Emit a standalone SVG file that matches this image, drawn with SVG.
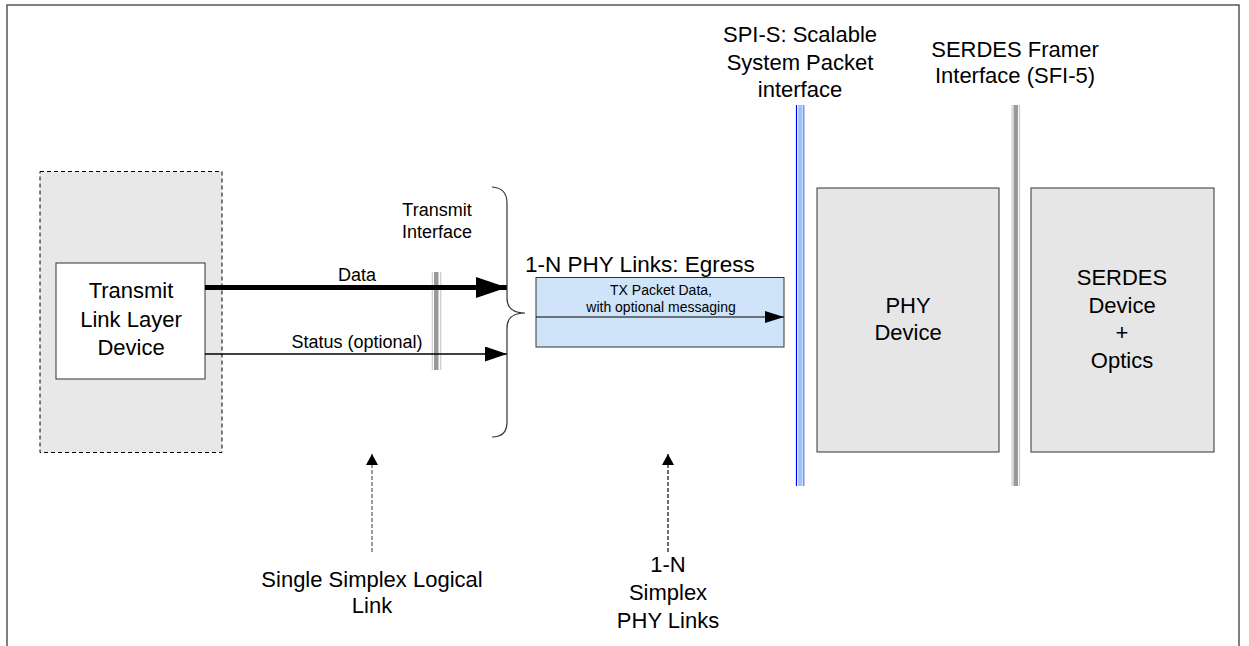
<svg xmlns="http://www.w3.org/2000/svg" width="1249" height="646" viewBox="0 0 1249 646">
<defs>
<style>
text{font-family:"Liberation Sans",Arial,sans-serif;fill:#000}
.big{font-size:22px;text-anchor:middle}
.med{font-size:18px;text-anchor:middle}
.sm{font-size:14px;text-anchor:middle}
.dev{fill:#e6e6e6;stroke:#333;stroke-width:1}
</style>
<marker id="ahD" markerWidth="31" markerHeight="21" refX="31" refY="10.5" orient="auto" markerUnits="userSpaceOnUse"><path d="M0,0 L31,10.5 L0,21 Z" fill="#000"/></marker>
<marker id="ahS" markerWidth="22" markerHeight="15" refX="22" refY="7.5" orient="auto" markerUnits="userSpaceOnUse"><path d="M0,0 L22,7.5 L0,15 Z" fill="#000"/></marker>
<marker id="ahB" markerWidth="19" markerHeight="12" refX="19" refY="6" orient="auto" markerUnits="userSpaceOnUse"><path d="M0,0 L19,6 L0,12 Z" fill="#000"/></marker>
<marker id="ahU" markerWidth="12" markerHeight="12" refX="11" refY="6" orient="auto" markerUnits="userSpaceOnUse"><path d="M0,0 L11,6 L0,12 Z" fill="#000"/></marker>
</defs>
<rect x="0" y="0" width="1249" height="646" fill="#fff"/>
<rect id="frame" x="7" y="5" width="1232" height="660" fill="none" stroke="#555" stroke-width="1.5"/>

<g id="linkLayerRegion">
<rect x="40" y="171.5" width="182" height="281" fill="#e8e8e8" stroke="#000" stroke-width="1" stroke-dasharray="4,3"/>
</g>
<g id="transmitLinkLayer">
<rect x="56" y="263" width="149" height="116" fill="#fff" stroke="#333" stroke-width="1"/>
<text class="big" x="131" y="298">Transmit</text>
<text class="big" x="131" y="327">Link Layer</text>
<text class="big" x="131" y="355">Device</text>
</g>

<g id="txInterfaceLabel">
<text class="med" x="437" y="216">Transmit</text>
<text class="med" x="437" y="238">Interface</text>
</g>

<g id="hashMark">
<rect x="434" y="272" width="4.5" height="98" fill="#999"/>
<line x1="432.3" y1="272" x2="432.3" y2="370" stroke="#ccc" stroke-width="1.2"/>
<line x1="440.7" y1="272" x2="440.7" y2="370" stroke="#ccc" stroke-width="1.2"/>
</g>

<g id="connectors">
<line x1="205" y1="287.5" x2="507" y2="287.5" stroke="#000" stroke-width="5" marker-end="url(#ahD)"/>
<line x1="205" y1="354" x2="507" y2="354" stroke="#000" stroke-width="1.5" marker-end="url(#ahS)"/>
<line x1="372" y1="552" x2="372" y2="454" stroke="#666" stroke-width="1.3" stroke-dasharray="4,2" marker-end="url(#ahU)"/>
<line x1="668" y1="552" x2="668" y2="454" stroke="#222" stroke-width="1.3" stroke-dasharray="4,2" marker-end="url(#ahU)"/>
</g>

<g id="linkLabels">
<text class="med" x="357" y="281">Data</text>
<text class="med" x="357" y="348">Status (optional)</text>
</g>

<g id="brace">
<path d="M492,187 Q507,188 507,203 L507,298 Q507,313 525,313 Q507,313 507,328 L507,422 Q507,437 492,437" fill="none" stroke="#333" stroke-width="1.2"/>
</g>

<g id="phyLinks">
<text x="525" y="272" style="font-size:22.5px">1-N PHY Links: Egress</text>
<rect x="536" y="277.5" width="248" height="69.5" fill="#cfe4f9" stroke="#333" stroke-width="1"/>
<line x1="536" y1="317" x2="784" y2="317" stroke="#000" stroke-width="1.2" marker-end="url(#ahB)"/>
<text class="sm" x="661" y="295">TX Packet Data,</text>
<text class="sm" x="661" y="312">with optional messaging</text>
</g>

<g id="spiInterface">
<line x1="796.5" y1="105" x2="796.5" y2="486" stroke="#0000ff" stroke-width="1.2"/>
<rect x="798.2" y="105" width="4.3" height="381" fill="#99c2ff"/>
<line x1="803.8" y1="105" x2="803.8" y2="486" stroke="#6677cc" stroke-width="1.2"/>
<text class="big" x="800" y="42">SPI-S: Scalable</text>
<text class="big" x="800" y="70">System Packet</text>
<text class="big" x="800" y="97">interface</text>
</g>

<g id="sfiInterface">
<line x1="1012" y1="105" x2="1012" y2="486" stroke="#ccc" stroke-width="1.2"/>
<rect x="1013.5" y="105" width="4.5" height="381" fill="#999"/>
<line x1="1019.5" y1="105" x2="1019.5" y2="486" stroke="#ccc" stroke-width="1.2"/>
<text class="big" x="1015" y="57">SERDES Framer</text>
<text class="big" x="1015" y="83">Interface (SFI-5)</text>
</g>

<g id="phyDevice">
<rect class="dev" x="817" y="188" width="182" height="264"/>
<text class="big" x="908" y="313">PHY</text>
<text class="big" x="908" y="340">Device</text>
</g>

<g id="serdesDevice">
<rect class="dev" x="1031" y="188" width="183" height="264"/>
<text class="big" x="1122" y="285">SERDES</text>
<text class="big" x="1122" y="313">Device</text>
<text class="big" x="1122" y="340">+</text>
<text class="big" x="1122" y="368">Optics</text>
</g>

<g id="bottomLabels">
<text class="big" x="372" y="587">Single Simplex Logical</text>
<text class="big" x="372" y="613">Link</text>
<text class="big" x="668" y="572">1-N</text>
<text class="big" x="668" y="600">Simplex</text>
<text class="big" x="668" y="628">PHY Links</text>
</g>
</svg>
